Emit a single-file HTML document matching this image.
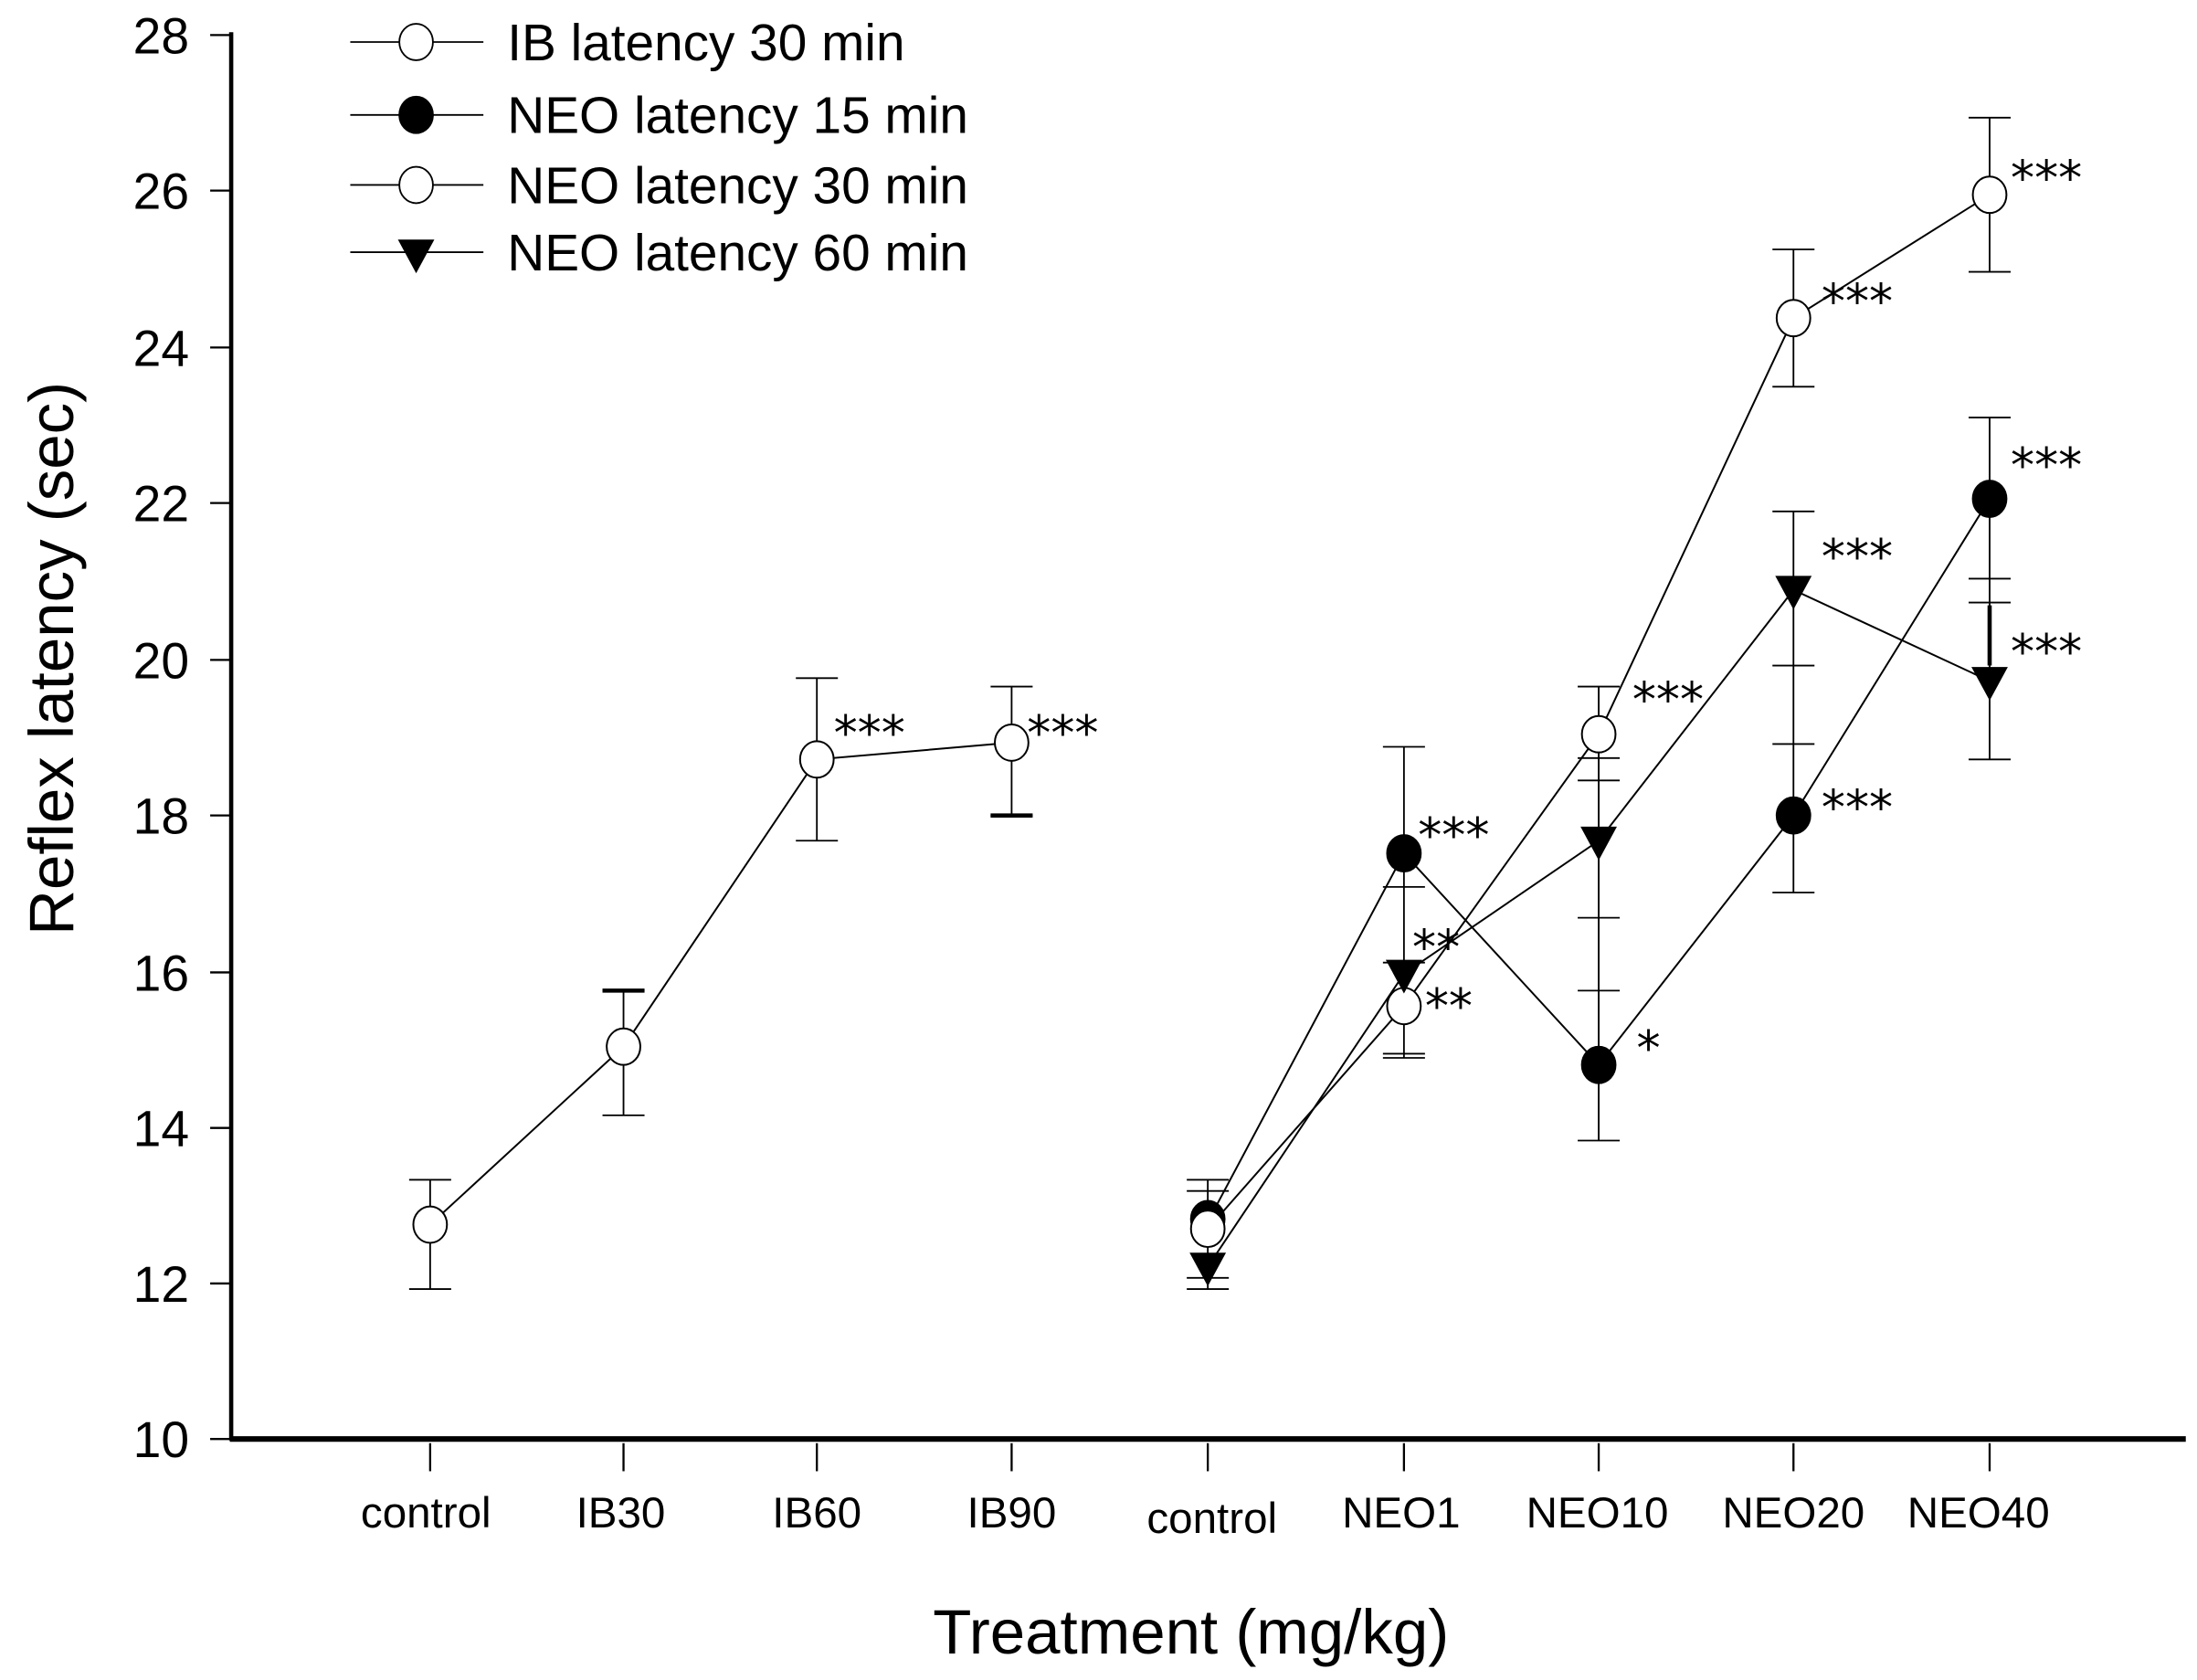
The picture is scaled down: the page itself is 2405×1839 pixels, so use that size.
<!DOCTYPE html>
<html><head><meta charset="utf-8"><style>html,body{margin:0;padding:0;background:#fff}svg{display:block}</style></head>
<body>
<svg width="2405" height="1839" viewBox="0 0 1568 1199" preserveAspectRatio="none" xmlns="http://www.w3.org/2000/svg" font-family="Liberation Sans, Arial, sans-serif">
<rect width="1568" height="1199" fill="#fff"/>
<g stroke="#000" fill="none">
<line x1="165" y1="23" x2="165" y2="1028" stroke-width="3"/>
<line x1="164" y1="1027" x2="1560" y2="1027" stroke-width="4"/>
</g>
<g stroke="#000" stroke-width="1.5">
<line x1="150" y1="25" x2="165" y2="25"/><line x1="150" y1="136" x2="165" y2="136"/><line x1="150" y1="248" x2="165" y2="248"/><line x1="150" y1="359" x2="165" y2="359"/><line x1="150" y1="471" x2="165" y2="471"/><line x1="150" y1="582" x2="165" y2="582"/><line x1="150" y1="694" x2="165" y2="694"/><line x1="150" y1="805" x2="165" y2="805"/><line x1="150" y1="916" x2="165" y2="916"/><line x1="150" y1="1027" x2="165" y2="1027"/>
<line x1="307" y1="1030" x2="307" y2="1050"/><line x1="445" y1="1030" x2="445" y2="1050"/><line x1="583" y1="1030" x2="583" y2="1050"/><line x1="722" y1="1030" x2="722" y2="1050"/><line x1="862" y1="1030" x2="862" y2="1050"/><line x1="1002" y1="1030" x2="1002" y2="1050"/><line x1="1141" y1="1030" x2="1141" y2="1050"/><line x1="1280" y1="1030" x2="1280" y2="1050"/><line x1="1420" y1="1030" x2="1420" y2="1050"/>
</g>
<g font-size="36" text-anchor="end">
<text x="135" y="38">28</text><text x="135" y="149">26</text><text x="135" y="261">24</text><text x="135" y="372">22</text><text x="135" y="484">20</text><text x="135" y="595">18</text><text x="135" y="707">16</text><text x="135" y="818">14</text><text x="135" y="929">12</text><text x="135" y="1040">10</text>
</g>
<g font-size="31" text-anchor="middle">
<text x="304" y="1090">control</text><text x="443" y="1090">IB30</text><text x="583" y="1090">IB60</text><text x="722" y="1090">IB90</text><text x="865" y="1094">control</text><text x="1000" y="1090">NEO1</text><text x="1140" y="1090">NEO10</text><text x="1280" y="1090">NEO20</text><text x="1412" y="1090">NEO40</text>
</g>
<text x="850" y="1180" font-size="45" text-anchor="middle">Treatment (mg/kg)</text>
<text transform="translate(52,470) rotate(-90)" font-size="45" text-anchor="middle">Reflex latency (sec)</text>
<g stroke="#000" stroke-width="1.2" fill="none">
<path d="M307 842V920M292 842h30M292 920h30"/>
<path d="M445 707V796M430 707h30M430 796h30"/>
<path d="M583 484V600M568 484h30M568 600h30"/>
<path d="M722 490V582M707 490h30M707 582h30"/>
<path d="M862 842V920M847 842h30M847 920h30M847 850h30M847 912h30"/>
<path d="M1002 533V755M987 533h30M987 633h30M987 687h30M987 752h30M987 755h30"/>
<path d="M1141 490V814M1126 490h30M1126 541h30M1126 557h30M1126 655h30M1126 707h30M1126 814h30"/>
<path d="M1280 178V276M1280 365V637M1265 178h30M1265 276h30M1265 365h30M1265 475h30M1265 531h30M1265 637h30"/>
<path d="M1420 84V194M1420 298V542M1405 84h30M1405 194h30M1405 298h30M1405 413h30M1405 430h30M1405 542h30"/>
</g>
<g stroke="#000" stroke-width="3"><path d="M430 707h30M707 582h30"/><line x1="1420" y1="432" x2="1420" y2="475"/></g>
<g stroke="#000" stroke-width="1.3" fill="none">
<polyline points="307,874 445,747 583,542 722,530"/>
<polyline points="862,872 1002,609 1141,760 1280,582 1420,356"/>
<polyline points="862,877 1002,718 1141,524 1280,227 1420,139"/>
<polyline points="862,904 1002,695 1141,600 1280,421 1420,486"/>
</g>
<g stroke="#000" stroke-width="1.3">
<ellipse cx="307" cy="874" rx="12" ry="13" fill="#fff"/><ellipse cx="445" cy="747" rx="12" ry="13" fill="#fff"/><ellipse cx="583" cy="542" rx="12" ry="13" fill="#fff"/><ellipse cx="722" cy="530" rx="12" ry="13" fill="#fff"/>
<ellipse cx="862" cy="870" rx="12" ry="13" fill="#000"/><ellipse cx="1002" cy="609" rx="12" ry="13" fill="#000"/><ellipse cx="1141" cy="760" rx="12" ry="13" fill="#000"/><ellipse cx="1280" cy="582" rx="12" ry="13" fill="#000"/><ellipse cx="1420" cy="356" rx="12" ry="13" fill="#000"/>
<ellipse cx="862" cy="877" rx="12" ry="13" fill="#fff"/><ellipse cx="1002" cy="718" rx="12" ry="13" fill="#fff"/><ellipse cx="1141" cy="524" rx="12" ry="13" fill="#fff"/><ellipse cx="1280" cy="227" rx="12" ry="13" fill="#fff"/><ellipse cx="1420" cy="139" rx="12" ry="13" fill="#fff"/>
</g>
<g fill="#000">
<path d="M849 894h26l-13 24z"/><path d="M989 685h26l-13 24z"/><path d="M1128 590h26l-13 24z"/><path d="M1267 411h26l-13 24z"/><path d="M1407 476h26l-13 24z"/>
</g>
<g font-size="34" font-family="DejaVu Sans, sans-serif">
<text x="595" y="535">***</text><text x="733" y="535">***</text>
<text x="1012" y="608">***</text><text x="1008" y="688">**</text><text x="1017" y="730">**</text><text x="1168" y="760">*</text>
<text x="1165" y="511">***</text><text x="1300" y="227">***</text><text x="1300" y="409">***</text><text x="1300" y="588">***</text>
<text x="1435" y="139">***</text><text x="1435" y="344">***</text><text x="1435" y="477">***</text>
</g>
<g stroke="#000" stroke-width="1.2">
<line x1="250" y1="30" x2="345" y2="30"/><line x1="250" y1="82" x2="345" y2="82"/><line x1="250" y1="132" x2="345" y2="132"/><line x1="250" y1="180" x2="345" y2="180"/>
<ellipse cx="297" cy="30" rx="12" ry="13" fill="#fff"/><ellipse cx="297" cy="82" rx="12" ry="13" fill="#000"/><ellipse cx="297" cy="132" rx="12" ry="13" fill="#fff"/>
</g>
<path d="M284 171h26l-13 24z" fill="#000"/>
<g font-size="37">
<text x="362" y="43">IB latency 30 min</text><text x="362" y="95">NEO latency 15 min</text><text x="362" y="145">NEO latency 30 min</text><text x="362" y="193">NEO latency 60 min</text>
</g>
</svg>
</body></html>
